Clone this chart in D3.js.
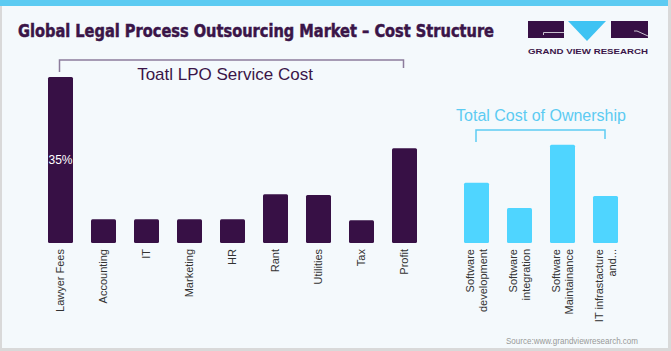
<!DOCTYPE html>
<html>
<head>
<meta charset="utf-8">
<script src="https://cdn.jsdelivr.net/npm/d3@7"></script>
<style>
  body { margin: 0; background: #fff; }
  svg { display: block; }
</style>
</head>
<body>
<svg id="chart"></svg>
<script>
// data
const lpoCats = ["Lawyer Fees", "Accounting", "IT", "Marketing", "HR", "Rant", "Utilities", "Tax", "Profit"];
const lpoValues = [35, 5, 5, 5, 5, 10.3, 10.1, 4.8, 20];
const tcoCats = ["Software development", "Software integration", "Software Maintainance", "IT infrastacture and..."];
const tcoLabels = [["Software", "development"], ["Software", "integration"], ["Software", "Maintainance"], ["IT infrastacture", "and..."]];
const tcoValues = [12.7, 7.4, 20.7, 9.9];

const width = 671;
const height = 351;
const baseY = 243;
const purple = "#371045";
const cyan = "#4fd5ff";

const svg = d3.select("#chart").attr("width", width).attr("height", height);

// frame
svg.append("rect").attr("width", width).attr("height", height).attr("fill", "#d9d9d9");
svg.append("rect").attr("x", 2).attr("y", 0).attr("width", width - 5).attr("height", height - 3).attr("fill", "#f4f9fc");
svg.append("rect").attr("x", 0).attr("y", 0).attr("width", width - 3).attr("height", 6).attr("fill", "#5ccbf2");

// title
svg.append("text")
  .attr("x", 18).attr("y", 37)
  .attr("textLength", 476).attr("lengthAdjust", "spacingAndGlyphs")
  .style("font-family", "'Liberation Sans Narrow', 'DejaVu Sans Condensed', 'Liberation Sans', sans-serif")
  .style("font-weight", "bold").style("font-size", "18px")
  .attr("fill", "#3a1548").attr("stroke", "#3a1548").attr("stroke-width", 0.5)
  .text("Global Legal Process Outsourcing Market – Cost Structure");

// scales
const xLeft = d3.scaleBand().domain(lpoCats).range([39, 39 + 43 * lpoCats.length])
  .paddingInner(18 / 43).paddingOuter(9 / 43);
const xRight = d3.scaleBand().domain(tcoCats).range([455, 455 + 43 * tcoCats.length])
  .paddingInner(18 / 43).paddingOuter(9 / 43);
const y = d3.scaleLinear().domain([0, 35]).range([baseY, 77]);

// bars
svg.append("g").selectAll("rect").data(lpoCats).enter().append("rect")
  .attr("x", d => xLeft(d))
  .attr("y", (d, i) => y(lpoValues[i]))
  .attr("width", xLeft.bandwidth())
  .attr("height", (d, i) => baseY - y(lpoValues[i]))
  .attr("rx", 1.5)
  .attr("fill", purple);

svg.append("g").selectAll("rect").data(tcoCats).enter().append("rect")
  .attr("x", d => xRight(d))
  .attr("y", (d, i) => y(tcoValues[i]))
  .attr("width", xRight.bandwidth())
  .attr("height", (d, i) => baseY - y(tcoValues[i]))
  .attr("rx", 1.5)
  .attr("fill", cyan);

// value label
svg.append("text")
  .attr("x", xLeft(lpoCats[0]) + xLeft.bandwidth() / 2)
  .attr("y", 164).attr("text-anchor", "middle")
  .style("font-family", "'Liberation Sans', Arial, sans-serif").style("font-size", "12px")
  .attr("fill", "#fff")
  .text(lpoValues[0] + "%");

// axis labels
const labelFont = "'Liberation Sans', Arial, sans-serif";
const xAxisL = d3.axisBottom(xLeft).tickSize(0).tickPadding(0);
const gl = svg.append("g").attr("transform", "translate(0," + baseY + ")").call(xAxisL);
gl.select(".domain").remove();
gl.selectAll("text")
  .attr("transform", "translate(0,6) rotate(-90)")
  .attr("x", 0).attr("y", 0).attr("dy", "0.35em")
  .attr("text-anchor", "end")
  .style("font-family", labelFont).style("font-size", "11px")
  .attr("fill", "#333");

const xAxisR = d3.axisBottom(xRight).tickSize(0).tickPadding(0).tickFormat(() => "");
const gr = svg.append("g").attr("transform", "translate(0," + baseY + ")").call(xAxisR);
gr.select(".domain").remove();
gr.selectAll(".tick text").each(function(d, i) {
  const t = d3.select(this)
    .attr("transform", "translate(0,6) rotate(-90)")
    .attr("x", 0).attr("y", 0)
    .attr("text-anchor", "end")
    .style("font-family", labelFont).style("font-size", "11px")
    .attr("fill", "#333");
  const lines = tcoLabels[i];
  lines.forEach((ln, j) => {
    t.append("tspan").attr("x", 0)
      .attr("dy", j === 0 ? (0.35 - 0.6 * (lines.length - 1)) + "em" : "1.2em")
      .text(ln);
  });
});

// brackets
const lx0 = xLeft(lpoCats[0]) + xLeft.bandwidth() / 2 - 1;
const lx1 = xLeft(lpoCats[lpoCats.length - 1]) + xLeft.bandwidth() / 2 - 1;
svg.append("path")
  .attr("d", `M${lx0},72 L${lx0},60 L${lx1},60 L${lx1},68`)
  .attr("fill", "none").attr("stroke", "#8c7c9c").attr("stroke-width", 1.5);
svg.append("text")
  .attr("x", 225).attr("y", 80).attr("text-anchor", "middle")
  .style("font-family", "'Liberation Sans', Arial, sans-serif").style("font-size", "17px")
  .attr("fill", "#3a1548")
  .text("Toatl LPO Service Cost");

const rx0 = xRight(tcoCats[0]) + xRight.bandwidth() / 2 - 0.5;
const rx1 = xRight(tcoCats[tcoCats.length - 1]) + xRight.bandwidth() / 2 - 0.5;
svg.append("path")
  .attr("d", `M${rx0},142 L${rx0},130 L${rx1},130 L${rx1},139`)
  .attr("fill", "none").attr("stroke", "#5ccbf2").attr("stroke-width", 1.5);
svg.append("text")
  .attr("x", 541).attr("y", 121).attr("text-anchor", "middle")
  .style("font-family", "'Liberation Sans', Arial, sans-serif").style("font-size", "16px")
  .attr("fill", "#5ccbf2")
  .text("Total Cost of Ownership");

// source
svg.append("text")
  .attr("x", 638).attr("y", 344).attr("text-anchor", "end")
  .attr("textLength", 132).attr("lengthAdjust", "spacingAndGlyphs")
  .style("font-family", "'Liberation Sans', Arial, sans-serif").style("font-size", "9px")
  .attr("fill", "#999")
  .text("Source:www.grandviewresearch.com");

// logo
const logo = svg.append("g").attr("class", "logo");
logo.append("rect").attr("x", 528).attr("y", 21).attr("width", 36).attr("height", 17).attr("fill", purple);
logo.append("path").attr("d", "M568 21 H606 L587 41 Z").attr("fill", "#3fc3f3");
logo.append("rect").attr("x", 611).attr("y", 21).attr("width", 37).attr("height", 17).attr("fill", purple);
logo.append("polyline").attr("points", "543.5,35 543.5,32.5 564,32.5").attr("fill", "none").attr("stroke", "#c9c2cf").attr("stroke-width", 1);
logo.append("polyline").attr("points", "634,31 637,31 648,36").attr("fill", "none").attr("stroke", "#c9c2cf").attr("stroke-width", 1);
logo.append("text")
  .attr("x", 588).attr("y", 54).attr("text-anchor", "middle")
  .attr("textLength", 120).attr("lengthAdjust", "spacingAndGlyphs")
  .style("font-family", "'Liberation Sans', Arial, sans-serif")
  .style("font-weight", "bold").style("font-size", "7.5px")
  .attr("fill", "#3a1548")
  .text("GRAND VIEW RESEARCH");
</script>
</body>
</html>
